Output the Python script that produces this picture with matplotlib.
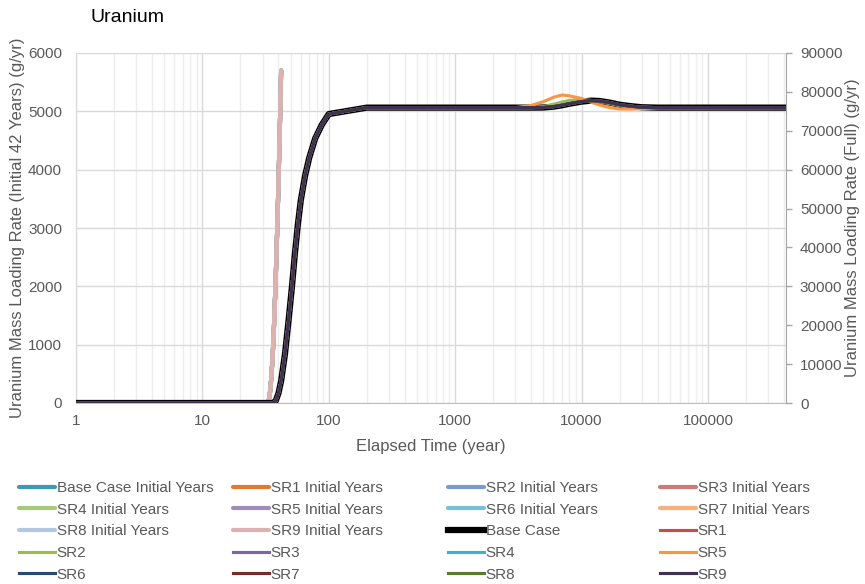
import matplotlib
matplotlib.use("Agg")
import matplotlib.pyplot as plt
from matplotlib.ticker import FixedLocator, NullFormatter, FuncFormatter
import numpy as np

plt.rcParams['font.family'] = ['Liberation Sans', 'DejaVu Sans']

# ---------------- data ----------------
title = "Uranium"
x_label = "Elapsed Time (year)"
y_left_label = "Uranium Mass Loading Rate (Initial 42 Years) (g/yr)"
y_right_label = "Uranium Mass Loading Rate (Full) (g/yr)"

# Initial 42 years (left axis)
iy_years = [1, 33, 34, 35, 36, 37, 38, 39, 40, 41, 42]
iy_values = [0, 0, 100, 400, 800, 1400, 2100, 2900, 3750, 4700, 5700]
iy_names = ["Base Case Initial Years", "SR1 Initial Years", "SR2 Initial Years",
            "SR3 Initial Years", "SR4 Initial Years", "SR5 Initial Years",
            "SR6 Initial Years", "SR7 Initial Years", "SR8 Initial Years",
            "SR9 Initial Years"]
iy_colors = ["#3a9ab8", "#e07b2e", "#7b9bcf", "#d07a78", "#a8c97a",
             "#a08bbd", "#78c0d6", "#fab07b", "#b3c6e4", "#dcb1b0"]

# Full simulation (right axis)
full_years = [1, 36, 38, 40, 42, 45, 48, 51, 54, 57, 60, 65, 70, 78, 88, 100, 200,
              3000, 4000, 5000, 6000, 7000, 8000, 10000, 12000, 14000, 17000,
              20000, 25000, 30000, 40000, 415000]
full_rise = [0, 0, 500, 2500, 5700, 12500, 21000, 29500, 38500, 46000, 52000,
             58500, 63000, 68000, 71500, 74300, 75950]
tail_base = [75950, 75950, 75980, 76200, 76550, 76950, 77500, 77750, 77650, 77200,
             76700, 76300, 76050, 75950, 75950]
tail_sr1 = [75950, 75950, 76150, 76600, 77150, 77600, 77800, 77700, 77450, 76950,
            76500, 76150, 75950, 75950, 75950]
tail_sr2 = [75950, 75950, 76200, 76800, 77400, 77800, 78050, 77800, 77500, 77000,
            76500, 76100, 75950, 75950, 75950]
tail_sr5 = [75950, 76500, 77500, 78600, 79200, 79000, 78300, 77300, 76600, 75900,
            75600, 75600, 75700, 75900, 75950]
full_names = ["Base Case", "SR1", "SR2", "SR3", "SR4", "SR5", "SR6", "SR7", "SR8", "SR9"]
full_tails = [tail_base, tail_sr1, tail_sr2, tail_base, tail_base, tail_sr5,
              tail_base, tail_base, tail_base, tail_base]
full_colors = ["#000000", "#c0504d", "#9bbb59", "#8064a2", "#4bacc6", "#f79646",
               "#254b75", "#772c2a", "#5a7a2e", "#3f3151"]

x_ticks = [1, 10, 100, 1000, 10000, 100000]
x_max = 415000

# ---------------- figure ----------------
fig = plt.figure(figsize=(8.65, 5.84), dpi=100)
ax = fig.add_axes([76/865, 1-403/584, (786-76)/865, (403-53)/584])
ax2 = ax.twinx()

grid_major = "#d9d9d9"
grid_minor = "#eeeeee"
text_col = "#595959"

ax.set_xscale("log")
ax.set_xlim(1, x_max)
ax.set_ylim(0, 6000)
ax2.set_ylim(0, 90000)

ax.xaxis.set_major_locator(FixedLocator(x_ticks))
ax.xaxis.set_major_formatter(FuncFormatter(lambda v, p: f"{int(round(v))}"))
minors = [m * 10**d for d in range(0, 6) for m in range(2, 10) if m * 10**d < x_max]
ax.xaxis.set_minor_locator(FixedLocator(minors))
ax.xaxis.set_minor_formatter(NullFormatter())
ax.set_yticks(np.arange(0, 6001, 1000))
ax2.set_yticks(np.arange(0, 90001, 10000))

ax.grid(True, which="major", axis="both", color=grid_major, lw=1.0, zorder=0)
ax.grid(True, which="minor", axis="x", color=grid_minor, lw=1.0, zorder=0)
ax.set_axisbelow(True)

for s in ["top", "right"]:
    ax.spines[s].set_visible(False)
ax.spines["left"].set_color(grid_major)
ax.spines["bottom"].set_color("#bfbfbf")
for s in ["top", "left"]:
    ax2.spines[s].set_visible(False)
ax2.spines["bottom"].set_visible(False)
ax2.spines["right"].set_color("#a6a6a6")

ax.tick_params(axis="x", which="both", length=0, pad=8, labelsize=11, labelcolor=text_col)
ax.tick_params(axis="y", length=0, pad=10, labelsize=11, labelcolor=text_col)
ax2.tick_params(axis="y", length=4, width=1, color="#a6a6a6", pad=6, labelsize=11,
                labelcolor=text_col)

# initial years lines (left axis)
iy_handles = []
for name, col in zip(iy_names, iy_colors):
    h, = ax.plot(iy_years, iy_values, color=col, lw=3.0, solid_capstyle="round",
                 label=name, zorder=3)
    iy_handles.append(h)

# full lines (right axis)
full_handles = []
for i, (name, tail, col) in enumerate(zip(full_names, full_tails, full_colors)):
    lw = 4.5 if i == 0 else 2.25
    h, = ax2.plot(full_years, full_rise + tail, color=col, lw=lw,
                  solid_joinstyle="round", label=name, zorder=3 + i)
    full_handles.append(h)

ax.set_xlabel(x_label, fontsize=12, color=text_col, labelpad=8)
ax.set_ylabel(y_left_label, fontsize=12, color=text_col, labelpad=2)
ax2.set_ylabel(y_right_label, fontsize=12, color=text_col, labelpad=2, rotation=90)

fig.text(91/865, 1-18/584, title, fontsize=14, color="#000000", va="center", ha="left")

# legend in 4 evenly spaced columns
all_handles = iy_handles + full_handles
col_x = [19, 233, 448, 660]
for c in range(4):
    hs = all_handles[c::4]
    leg = fig.legend(handles=hs, labels=[h.get_label() for h in hs],
                     loc="upper left", bbox_to_anchor=(col_x[c]/865, 1-481/584),
                     frameon=False, fontsize=11, handlelength=2.35, handletextpad=0.12,
                     borderpad=0, borderaxespad=0, labelspacing=0.5)
    for t in leg.get_texts():
        t.set_color(text_col)

fig.savefig("out.png", dpi=100)
